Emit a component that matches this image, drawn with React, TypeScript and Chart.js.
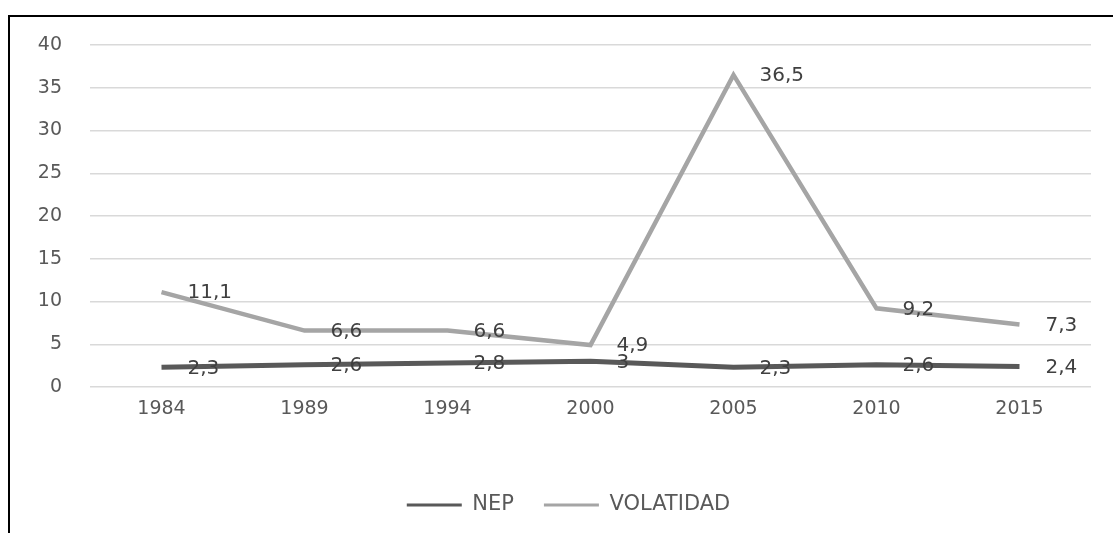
import React, { useEffect, useRef } from "react";
import { Chart, registerables } from "chart.js";

Chart.register(...registerables);

const categories = ["1984", "1989", "1994", "2000", "2005", "2010", "2015"];
const nepValues = [2.3, 2.6, 2.8, 3, 2.3, 2.6, 2.4];
const volatilidadValues = [11.1, 6.6, 6.6, 4.9, 36.5, 9.2, 7.3];
const seriesNames = ["NEP", "VOLATIDAD"];
const seriesColors = ["#595959", "#a5a5a5"];

const FONT = "'DejaVu Sans', sans-serif";
const TEXT_COLOR = "#595959";

const fmt = (v: number) => String(v).replace(".", ",");

const dataLabelPlugin = {
  id: "dataLabels",
  afterDatasetsDraw(chart: any) {
    const ctx = chart.ctx;
    ctx.save();
    ctx.font = `20px ${FONT}`;
    ctx.fillStyle = "#404040";
    ctx.textAlign = "left";
    ctx.textBaseline = "middle";
    chart.data.datasets.forEach((ds: any, i: number) => {
      const meta = chart.getDatasetMeta(i);
      meta.data.forEach((pt: any, j: number) => {
        ctx.fillText(fmt(ds.data[j]), pt.x + 26, pt.y + 1);
      });
    });
    ctx.restore();
  },
};

const legendShiftPlugin = {
  id: "legendShift",
  afterLayout(chart: any) {
    if (chart.legend) {
      chart.legend.left += 18;
      chart.legend.right += 18;
    }
  },
};

export default function App() {
  const ref = useRef<HTMLCanvasElement>(null);
  useEffect(() => {
    if (!ref.current) return;
    const chart = new Chart(ref.current, {
      type: "line",
      data: {
        labels: categories,
        datasets: [
          {
            label: seriesNames[0],
            data: nepValues,
            borderColor: seriesColors[0],
            backgroundColor: seriesColors[0],
            borderWidth: 5,
            pointRadius: 0,
            tension: 0,
          },
          {
            label: seriesNames[1],
            data: volatilidadValues,
            borderColor: seriesColors[1],
            backgroundColor: seriesColors[1],
            borderWidth: 4.5,
            pointRadius: 0,
            tension: 0,
          },
        ],
      },
      options: {
        animation: false,
        responsive: true,
        maintainAspectRatio: false,
        layout: { padding: { left: 0, right: 22, top: 28, bottom: 7.5 } },
        plugins: {
          tooltip: { enabled: false },
          legend: {
            position: "bottom",
            labels: {
              boxWidth: 55,
              boxHeight: 3,
              padding: 30,
              color: TEXT_COLOR,
              font: { family: FONT, size: 21 },
              generateLabels: (chart: any) =>
                chart.data.datasets.map((ds: any, i: number) => ({
                  text: ds.label,
                  fillStyle: seriesColors[i],
                  strokeStyle: seriesColors[i],
                  lineWidth: 0,
                  fontColor: TEXT_COLOR,
                  hidden: false,
                  datasetIndex: i,
                })),
            },
          },
        },
        scales: {
          x: {
            offset: true,
            grid: { display: false, drawTicks: false },
            border: { display: false },
            ticks: { color: TEXT_COLOR, font: { family: FONT, size: 19 }, padding: 11, maxRotation: 0 },
            afterFit: (s: any) => {
              s.height = 77.5;
            },
          },
          y: {
            min: 0,
            max: 40,
            ticks: { stepSize: 5, color: TEXT_COLOR, font: { family: FONT, size: 19 }, padding: 28 },
            grid: { color: "#d9d9d9", lineWidth: 1.5, drawTicks: false },
            border: { display: false },
            afterFit: (s: any) => {
              s.width = 80;
              s.paddingTop = 0;
              s.paddingBottom = 0;
            },
          },
        },
      },
      plugins: [dataLabelPlugin, legendShiftPlugin],
    });
    return () => chart.destroy();
  }, []);

  return (
    <div
      style={{
        position: "fixed",
        left: 8,
        top: 15,
        right: 0,
        bottom: 0,
        borderLeft: "2px solid #000",
        borderTop: "2px solid #000",
        boxSizing: "border-box",
        background: "#fff",
      }}
    >
      <div style={{ position: "relative", width: "100%", height: "100%" }}>
        <canvas ref={ref} />
      </div>
    </div>
  );
}
